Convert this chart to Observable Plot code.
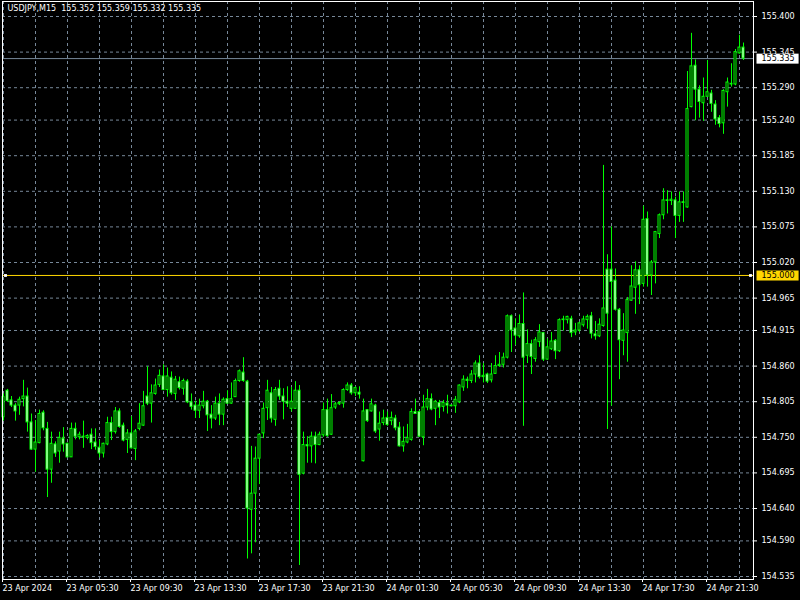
<!DOCTYPE html>
<html><head><meta charset="utf-8">
<script src="https://cdn.jsdelivr.net/npm/d3@7"></script>
<script src="https://cdn.jsdelivr.net/npm/@observablehq/plot@0.6"></script>
<style>
html,body{margin:0;padding:0;background:#000;}
#chart{width:800px;height:600px;}
</style></head><body><div id="chart"></div>
<script>
const symbol = "USDJPY,M15";
const opens = [
154.781,154.822,154.807,154.799,154.799,154.809,154.813,154.773,154.731,154.741,
154.788,154.763,154.700,154.739,154.728,154.748,154.740,154.719,154.763,154.750,
154.751,154.749,154.754,154.742,154.734,154.725,154.739,154.772,154.758,154.790,
154.768,154.746,154.756,154.732,154.763,154.768,154.813,154.802,154.817,154.831,
154.844,154.823,154.842,154.817,154.835,154.825,154.836,154.804,154.799,154.791,
154.798,154.805,154.785,154.779,154.802,154.785,154.809,154.802,154.812,154.837,
154.850,154.836,154.638,154.663,154.717,154.756,154.795,154.818,154.777,154.825,
154.813,154.805,154.794,154.794,154.822,154.694,154.738,154.736,154.751,154.738,
154.753,154.792,154.754,154.796,154.801,154.802,154.823,154.830,154.818,154.819,
154.713,154.792,154.790,154.799,154.762,154.772,154.780,154.775,154.779,154.765,
154.736,154.742,154.746,154.789,154.789,154.750,154.796,154.809,154.794,154.803,
154.797,154.802,154.799,154.798,154.804,154.827,154.839,154.837,154.847,154.864,
154.843,154.847,154.838,154.848,154.860,154.862,154.873,154.937,154.918,154.906,
154.925,154.876,154.894,154.871,154.897,154.911,154.870,154.886,154.899,154.883,
154.931,154.931,154.933,154.912,154.915,154.923,154.931,154.937,154.909,154.906,
154.922,155.009,155.009,154.992,154.947,154.899,154.911,154.961,154.981,155.008,
154.987,155.087,155.000,155.020,155.064,155.093,155.116,155.115,155.116,155.092,
155.113,155.105,155.260,155.324,155.287,155.266,155.276,155.281,155.264,155.243,
155.235,155.283,155.296,155.295,155.343,155.352];
const highs = [
154.817,154.824,154.813,154.802,154.812,154.838,154.826,154.786,154.776,154.792,
154.791,154.773,154.758,154.743,154.758,154.765,154.741,154.772,154.772,154.758,
154.775,154.754,154.763,154.763,154.745,154.741,154.781,154.781,154.796,154.794,
154.772,154.762,154.782,154.762,154.802,154.821,154.859,154.831,154.840,154.854,
154.862,154.857,154.851,154.844,154.843,154.840,154.839,154.817,154.806,154.809,
154.821,154.807,154.799,154.812,154.817,154.811,154.822,154.834,154.840,154.854,
154.873,154.838,154.736,154.735,154.754,154.803,154.838,154.827,154.827,154.838,
154.825,154.828,154.827,154.836,154.830,154.758,154.751,154.758,154.758,154.758,
154.803,154.809,154.816,154.804,154.805,154.825,154.834,154.833,154.828,154.828,
154.809,154.793,154.809,154.801,154.789,154.792,154.789,154.789,154.784,154.773,
154.766,154.770,154.794,154.809,154.791,154.815,154.824,154.817,154.807,154.807,
154.807,154.815,154.800,154.813,154.831,154.845,154.843,154.853,154.868,154.876,
154.864,154.849,154.864,154.876,154.881,154.880,154.939,154.939,154.933,154.939,
154.973,154.916,154.900,154.904,154.924,154.912,154.902,154.912,154.901,154.933,
154.937,154.937,154.937,154.926,154.928,154.937,154.939,154.943,154.929,154.933,
155.170,155.032,155.075,155.010,154.949,154.941,154.966,155.015,155.021,155.015,
155.107,155.098,155.023,155.068,155.095,155.134,155.131,155.129,155.121,155.129,
155.129,155.315,155.374,155.333,155.293,155.305,155.332,155.286,155.270,155.247,
155.287,155.305,155.327,155.349,155.371,155.359];
const lows = [
154.775,154.804,154.796,154.775,154.784,154.797,154.758,154.730,154.696,154.740,
154.760,154.657,154.679,154.719,154.710,154.727,154.719,154.719,154.746,154.746,
154.733,154.746,154.731,154.730,154.718,154.718,154.737,154.745,154.755,154.764,
154.743,154.725,154.732,154.714,154.760,154.767,154.799,154.772,154.815,154.827,
154.822,154.812,154.815,154.807,154.823,154.815,154.802,154.792,154.779,154.779,
154.794,154.759,154.763,154.776,154.768,154.768,154.801,154.801,154.812,154.835,
154.835,154.562,154.570,154.587,154.677,154.748,154.776,154.772,154.767,154.807,
154.777,154.796,154.789,154.793,154.552,154.692,154.710,154.710,154.709,154.737,
154.750,154.750,154.753,154.793,154.799,154.795,154.821,154.815,154.813,154.809,
154.712,154.773,154.789,154.756,154.744,154.768,154.767,154.768,154.760,154.735,
154.727,154.740,154.744,154.786,154.750,154.737,154.791,154.791,154.768,154.779,
154.789,154.786,154.797,154.787,154.802,154.821,154.825,154.833,154.834,154.840,
154.834,154.833,154.834,154.847,154.858,154.857,154.871,154.881,154.892,154.903,
154.767,154.864,154.847,154.866,154.889,154.867,154.869,154.884,154.870,154.881,
154.914,154.925,154.904,154.907,154.912,154.920,154.917,154.902,154.900,154.904,
154.920,154.762,154.798,154.945,154.839,154.876,154.866,154.960,154.940,154.955,
154.982,154.982,154.969,154.987,155.057,155.086,155.095,155.108,155.057,155.082,
155.082,155.104,155.259,155.239,155.243,155.238,155.275,155.252,155.232,155.228,
155.218,155.260,155.291,155.293,155.342,155.332];
const closes = [
154.812,154.806,154.799,154.790,154.808,154.813,154.773,154.731,154.742,154.786,
154.764,154.700,154.740,154.725,154.749,154.739,154.719,154.763,154.751,154.754,
154.750,154.752,154.741,154.735,154.725,154.740,154.772,154.758,154.790,154.766,
154.745,154.756,154.733,154.759,154.771,154.798,154.802,154.818,154.830,154.845,
154.823,154.844,154.818,154.839,154.826,154.837,154.804,154.797,154.791,154.799,
154.805,154.784,154.779,154.802,154.785,154.808,154.802,154.809,154.837,154.852,
154.837,154.640,154.663,154.717,154.754,154.794,154.822,154.779,154.823,154.813,
154.805,154.802,154.805,154.822,154.692,154.738,154.736,154.751,154.738,154.754,
154.792,154.752,154.795,154.801,154.803,154.823,154.830,154.818,154.826,154.816,
154.790,154.775,154.801,154.759,154.771,154.779,154.769,154.780,154.764,154.736,
154.743,154.749,154.789,154.786,154.751,154.796,154.809,154.793,154.805,154.796,
154.803,154.799,154.798,154.808,154.830,154.839,154.837,154.847,154.864,154.843,
154.845,154.836,154.847,154.860,154.862,154.873,154.937,154.915,154.907,154.925,
154.873,154.894,154.874,154.900,154.912,154.870,154.889,154.898,154.883,154.931,
154.932,154.936,154.911,154.915,154.926,154.932,154.936,154.910,154.906,154.924,
154.949,154.941,154.990,154.947,154.900,154.915,154.962,154.983,155.008,154.985,
155.086,155.000,155.020,155.067,155.093,155.116,155.115,155.117,155.092,155.113,
155.112,155.257,155.323,155.287,155.268,155.276,155.283,155.265,155.241,155.234,
155.285,155.298,155.295,155.345,155.352,155.335];
const timeLabels = ["23 Apr 2024","23 Apr 05:30","23 Apr 09:30","23 Apr 13:30","23 Apr 17:30","23 Apr 21:30",
  "24 Apr 01:30","24 Apr 05:30","24 Apr 09:30","24 Apr 13:30","24 Apr 17:30","24 Apr 21:30"];
const priceTicks = [155.400,155.345,155.290,155.240,155.185,155.130,155.075,155.020,154.965,154.915,
  154.860,154.805,154.750,154.695,154.640,154.590,154.535];
const levelLine = 155.000;
const barsPerLabel = 16;
const barsPerGrid = 8;

const n = opens.length;
const data = d3.range(n).map(i => ({i, o: opens[i], h: highs[i], l: lows[i], c: closes[i]}));
const last = data[n - 1];
const bidPrice = last.c;
const fmt = v => v.toFixed(3);
const titleText = `${symbol}\u00a0\u00a0${fmt(last.o)} ${fmt(last.h)} ${fmt(last.l)} ${fmt(last.c)}`;
const gridXIdx = d3.range(0, n, barsPerGrid);
const labelIdx = timeLabels.map((_, k) => k * barsPerLabel);
const LIME = "#00ff00", GRID = "#778899", GOLD = "#ffd700";
const font = "'DejaVu Sans', Verdana, sans-serif";

const chart = Plot.plot({
  width: 800, height: 600,
  marginLeft: 2, marginRight: 47, marginTop: 1, marginBottom: 21,
  style: {background: "#000", color: "#fff", fontFamily: font, fontSize: "8px"},
  x: {type: "linear", domain: [0, n - 1], range: [3, 3 + 4 * (n - 1)], axis: null, label: null},
  y: {domain: [154.535, 155.400], range: [576, 16], axis: null, label: null},
  marks: [
    Plot.gridY(priceTicks, {stroke: GRID, strokeOpacity: 1, strokeDasharray: "3,3"}),
    Plot.gridX(gridXIdx, {stroke: GRID, strokeOpacity: 1, strokeDasharray: "3,3"}),
    Plot.ruleY([bidPrice], {stroke: GRID, strokeWidth: 1}),
    Plot.ruleY([levelLine], {stroke: GOLD, strokeWidth: 1}),
    Plot.ruleX(data, {x: "i", y1: "l", y2: "h", stroke: LIME, strokeWidth: 1}),
    Plot.rect(data, {x1: d => d.i - 0.25, x2: d => d.i + 0.25, y1: "o", y2: "c",
      fill: d => d.c >= d.o ? "#000" : "#fff", stroke: LIME, strokeWidth: 1}),
    Plot.dot([levelLine], {y: d => d, frameAnchor: "left", dx: 3, symbol: "square", r: 1.6, fill: "#fff", stroke: "none"}),
    Plot.dot([levelLine], {y: d => d, frameAnchor: "right", dx: -3, symbol: "square", r: 1.6, fill: "#fff", stroke: "none"}),
    Plot.frame({stroke: "#fff", strokeWidth: 1}),
    Plot.axisY(priceTicks, {anchor: "right", label: null, tickSize: 3, tickPadding: 5, tickFormat: fmt,
      stroke: "#fff", fill: "#fff", fontSize: 8}),
    Plot.axisX(labelIdx, {anchor: "bottom", label: null, tickSize: 3, tickPadding: 3, tickFormat: i => timeLabels[i / barsPerLabel],
      textAnchor: "start", dx: -1, stroke: "#fff", fill: "#fff", fontSize: 8}),
    Plot.text([bidPrice], {y: d => d, frameAnchor: "right", dx: 8, textAnchor: "start", text: fmt,
      fill: "#000", fontSize: 8, className: "lbl-bid"}),
    Plot.text([levelLine], {y: d => d, frameAnchor: "right", dx: 8, textAnchor: "start", text: fmt,
      fill: "#000", fontSize: 8, className: "lbl-level"}),
    Plot.text([titleText], {frameAnchor: "top-left", dx: 5, dy: 4, lineAnchor: "top", textAnchor: "start",
      text: d => d, fill: "#fff", fontSize: 8})
  ]
});
document.getElementById("chart").appendChild(chart);

// background boxes behind price labels, sized from the rendered text
[["lbl-bid", "#ffffff"], ["lbl-level", GOLD]].forEach(([cls, bg]) => {
  const g = chart.querySelector("g." + cls);
  if (!g) return;
  g.querySelectorAll("text").forEach(t => {
    const b = t.getBBox();
    const r = document.createElementNS("http://www.w3.org/2000/svg", "rect");
    const cy = b.y + b.height / 2;
    r.setAttribute("x", b.x - 5);
    r.setAttribute("y", cy - 5);
    r.setAttribute("width", b.width + 9);
    r.setAttribute("height", 10);
    r.setAttribute("fill", bg);
    if (t.getAttribute("transform")) r.setAttribute("transform", t.getAttribute("transform"));
    t.parentNode.insertBefore(r, t);
  });
});
</script>
</body></html>
